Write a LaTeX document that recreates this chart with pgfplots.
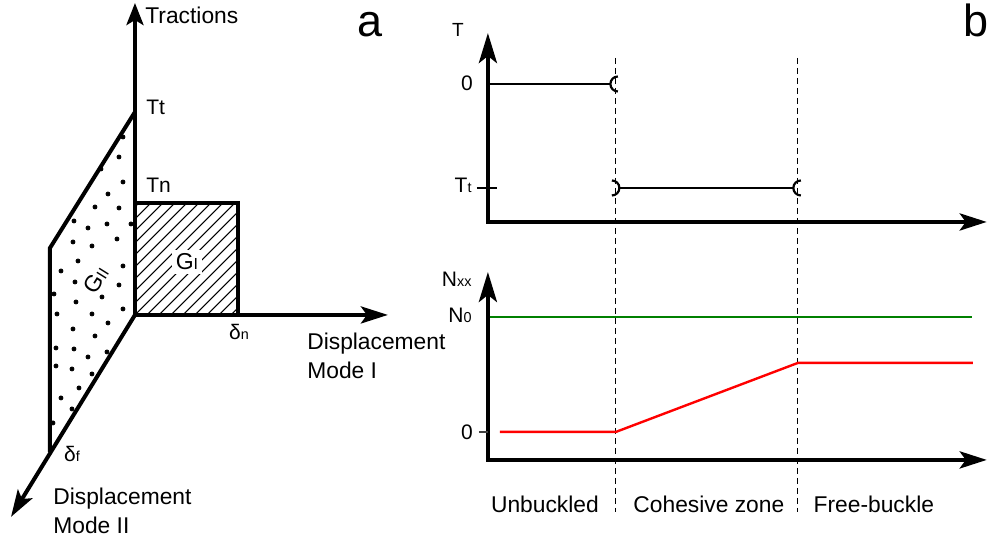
\documentclass[border=0pt]{standalone}
\usepackage{fontspec}
\setmainfont{Liberation Sans}
\usepackage{pgfplots}
\pgfplotsset{compat=1.18}
\usetikzlibrary{arrows.meta}

\pgfdeclareplotmark{lpar}{%
  \pgfpathmoveto{\pgfqpoint{0pt}{\pgfplotmarksize}}%
  \pgfpatharc{90}{270}{\pgfplotmarksize}%
  \pgfusepathqstroke}
\pgfdeclareplotmark{rpar}{%
  \pgfpathmoveto{\pgfqpoint{0pt}{-\pgfplotmarksize}}%
  \pgfpatharc{-90}{90}{\pgfplotmarksize}%
  \pgfusepathqstroke}

\newcommand\lab{\fontsize{11.4}{13}\selectfont}
\newcommand\tk{\fontsize{10.5}{12}\selectfont}
\newcommand\gk{\fontsize{11.5}{13}\selectfont}
\newcommand\sub[1]{{\fontsize{7.2}{8}\selectfont #1}}
\newcommand\gsub[1]{{\fontsize{8}{9}\selectfont #1}}

\begin{document}
\begin{tikzpicture}
\begin{axis}[
  width=494.5pt, height=271pt, scale only axis,
  xmin=0, xmax=989, ymin=0, ymax=542, y dir=reverse,
  axis lines=none, clip=false,
  every axis plot/.append style={line cap=butt, line join=miter},
]
\addplot[draw=none] coordinates {(0,0) (989,542)};
% ---------- panel a: stipple of G_II
\addplot[only marks, mark=*, mark size=1pt, black] coordinates {
 (123,137) (119,157) (101,169) (123,182) (108,194) (95,207) (119,208)
 (74,221) (88,228) (107,224) (131,224) (73,242) (92,246) (117,239)
 (78,261) (123,266) (61,271) (75,282) (54,294) (119,285) (76,302)
 (102,297) (123,309) (57,314) (92,314) (108,323) (73,329) (95,336)
 (56,348) (74,349) (107,352) (88,357) (56,366) (72,369) (92,374)
 (79,388) (61,398) (72,409) (53,423)};
% ---------- panel a: hatch of G_I
\addplot[line width=0.5pt, unbounded coords=jump] coordinates {
 (135,207) (139,203) (nan,nan) (135,219) (151,203) (nan,nan)
 (135,231) (163,203) (nan,nan) (135,243) (175,203) (nan,nan)
 (135,255) (187,203) (nan,nan) (135,267) (199,203) (nan,nan)
 (135,279) (211,203) (nan,nan) (135,291) (223,203) (nan,nan)
 (135,303) (235,203) (nan,nan) (135,315) (238,212) (nan,nan)
 (147,315) (238,224) (nan,nan) (159,315) (238,236) (nan,nan)
 (171,315) (238,248) (nan,nan) (183,315) (238,260) (nan,nan)
 (195,315) (238,272) (nan,nan) (207,315) (238,284) (nan,nan)
 (219,315) (238,296) (nan,nan) (231,315) (238,308)};
% ---------- panel a: lines
\addplot[line width=2pt, -{Stealth[length=11pt,width=8.5pt,inset=2.5pt]}] coordinates {(135,315) (135,3)};
\addplot[line width=2pt, -{Stealth[length=13.5pt,width=8.5pt,inset=3pt]}] coordinates {(135,315) (388,315)};
\addplot[line width=2pt, -{Stealth[length=13.5pt,width=8.5pt,inset=3pt]}] coordinates {(135,315) (11,517)};
\addplot[line width=2pt] coordinates {(135,112) (50,248) (50,452)};
\addplot[line width=2pt] coordinates {(135,203) (238,203) (238,315)};
% ---------- panel a: labels
\node[anchor=base west, font=\lab, inner sep=0pt] at (axis cs:145,24) {Tractions};
\node[anchor=base west, font=\tk, inner sep=0pt] at (axis cs:146,115) {Tt};
\node[anchor=base west, font=\tk, inner sep=0pt] at (axis cs:146,193) {Tn};
\node[fill=white, inner sep=2pt, font=\gk] at (axis cs:187,262) {G\gsub{I}};
\node[fill=white, inner sep=1.5pt, rotate=58, font=\gk] at (axis cs:96,280) {G\gsub{II}};
\node[anchor=base, font=\tk, inner sep=0pt] at (axis cs:239,340) {δ\sub{n}};
\node[anchor=base, font=\tk, inner sep=0pt] at (axis cs:72,462) {δ\sub{f}};
\node[anchor=base west, font=\lab, inner sep=0pt] at (axis cs:307,350) {Displacement};
\node[anchor=base west, font=\lab, inner sep=0pt] at (axis cs:307,379) {Mode I};
\node[anchor=base west, font=\lab, inner sep=0pt] at (axis cs:53,505) {Displacement};
\node[anchor=base west, font=\lab, inner sep=0pt] at (axis cs:53,534) {Mode II};
\node[anchor=base, font=\fontsize{22.5}{24}\selectfont, inner sep=0pt] at (axis cs:370,37) {a};
\node[anchor=base, font=\fontsize{22.5}{24}\selectfont, inner sep=0pt] at (axis cs:976,37) {b};
% ---------- panel b: dashed separators
\addplot[line width=0.6pt, dash pattern=on 3pt off 2pt] coordinates {(616,58) (616,512)};
\addplot[line width=0.6pt, dash pattern=on 3pt off 2pt] coordinates {(798,58) (798,512)};
% ---------- panel b: axes
\addplot[line width=2.2pt, {Stealth[length=15pt,width=9pt,inset=3.5pt]}-{Stealth[length=13.5pt,width=8.5pt,inset=3pt]}] coordinates {(488,33) (488,222) (987,222)};
\addplot[line width=2.2pt, {Stealth[length=15pt,width=9pt,inset=3.5pt]}-{Stealth[length=13.5pt,width=8.5pt,inset=3pt]}] coordinates {(488,272) (488,460) (987,460)};
% ---------- panel b: traction
\addplot[line width=1.1pt] coordinates {(488,84) (611,84)};
\addplot[line width=1.1pt] coordinates {(620,188) (794,188)};
\addplot[only marks, mark=lpar, mark size=3.75pt, mark options={line width=1.1pt}] coordinates {(618,84) (801,188)};
\addplot[only marks, mark=rpar, mark size=3.75pt, mark options={line width=1.1pt}] coordinates {(612,188)};
\addplot[line width=0.6pt] coordinates {(477,188) (497,188)};
\addplot[line width=0.6pt, black!75] coordinates {(479,432) (488,432)};
% ---------- panel b: Nxx
\addplot[line width=1.2pt, color=green!50!black] coordinates {(490,317) (972,317)};
\addplot[line width=1.2pt, red] coordinates {(500,432) (616,432) (798,363) (973,363)};
% ---------- panel b: labels
\node[anchor=base, font=\fontsize{9.5}{10}\selectfont, inner sep=0pt] at (axis cs:458,37) {T};
\node[anchor=base, font=\tk, inner sep=0pt] at (axis cs:467,91) {0};
\node[anchor=base east, font=\tk, inner sep=0pt] at (axis cs:472,193) {T\sub{t}};
\node[anchor=base east, font=\tk, inner sep=0pt] at (axis cs:472,287) {N\sub{xx}};
\node[anchor=base east, font=\tk, inner sep=0pt] at (axis cs:472,323) {N\sub{0}};
\node[anchor=base, font=\tk, inner sep=0pt] at (axis cs:467,440) {0};
\node[anchor=base, font=\lab, inner sep=0pt] at (axis cs:545,513) {Unbuckled};
\node[anchor=base, font=\lab, inner sep=0pt] at (axis cs:709,513) {Cohesive zone};
\node[anchor=base, font=\lab, inner sep=0pt] at (axis cs:874,513) {Free-buckle};
\end{axis}
\end{tikzpicture}
\end{document}
